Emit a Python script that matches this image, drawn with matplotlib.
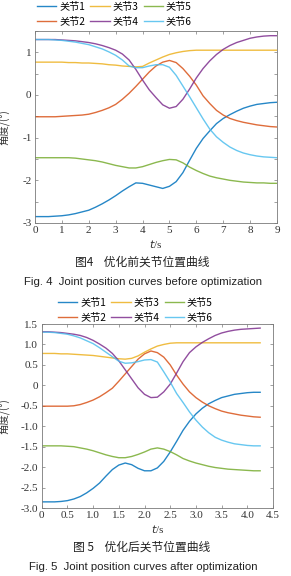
import matplotlib
matplotlib.use('Agg')
import matplotlib.pyplot as plt
import numpy as np
from matplotlib.ticker import MultipleLocator, FuncFormatter

plt.rcParams['axes.unicode_minus'] = False

# ---- data: before optimization (t = 0..9, step 0.25)
t_before = np.arange(0, 9.001, 0.25)
j1_before = [-2.85, -2.85, -2.85, -2.84, -2.83, -2.81, -2.78, -2.74, -2.70, -2.63,
             -2.55, -2.46, -2.36, -2.25, -2.15, -2.06, -2.07, -2.11, -2.15, -2.19,
             -2.14, -2.03, -1.82, -1.53, -1.25, -1.02, -0.84, -0.67, -0.55, -0.46,
             -0.38, -0.31, -0.26, -0.22, -0.20, -0.18, -0.17]
j2_before = [-0.51, -0.51, -0.51, -0.51, -0.50, -0.49, -0.48, -0.47, -0.45, -0.41,
             -0.36, -0.30, -0.22, -0.10, 0.04, 0.20, 0.37, 0.54, 0.68, 0.77,
             0.81, 0.76, 0.62, 0.44, 0.23, -0.02, -0.20, -0.36, -0.47, -0.55,
             -0.60, -0.64, -0.67, -0.70, -0.72, -0.74, -0.75]
j3_before = [0.77, 0.77, 0.77, 0.77, 0.77, 0.76, 0.76, 0.75, 0.75, 0.74,
             0.73, 0.71, 0.70, 0.68, 0.67, 0.66, 0.67, 0.75, 0.82, 0.89,
             0.95, 0.99, 1.02, 1.04, 1.05, 1.05, 1.05, 1.05, 1.05, 1.05,
             1.05, 1.05, 1.05, 1.05, 1.05, 1.05, 1.05]
j4_before = [1.30, 1.30, 1.30, 1.30, 1.29, 1.28, 1.27, 1.25, 1.23, 1.20,
             1.16, 1.11, 1.05, 0.96, 0.82, 0.60, 0.35, 0.12, -0.06, -0.23,
             -0.31, -0.27, -0.10, 0.14, 0.40, 0.62, 0.80, 0.95, 1.07, 1.16,
             1.23, 1.28, 1.33, 1.36, 1.38, 1.39, 1.39]
j5_before = [-1.47, -1.47, -1.47, -1.47, -1.47, -1.47, -1.48, -1.50, -1.52, -1.54,
             -1.57, -1.61, -1.65, -1.68, -1.71, -1.71, -1.68, -1.63, -1.58, -1.54,
             -1.51, -1.52, -1.59, -1.69, -1.77, -1.84, -1.90, -1.94, -1.97, -2.00,
             -2.02, -2.04, -2.05, -2.06, -2.06, -2.07, -2.07]
j6_before = [1.30, 1.30, 1.30, 1.29, 1.28, 1.26, 1.24, 1.21, 1.18, 1.13,
             1.08, 1.01, 0.93, 0.82, 0.68, 0.64, 0.64, 0.68, 0.71, 0.71,
             0.65, 0.46, 0.21, -0.04, -0.30, -0.56, -0.80, -0.98, -1.11, -1.22,
             -1.30, -1.36, -1.40, -1.43, -1.45, -1.46, -1.47]

# ---- data: after optimization (t = 0..4.25, step 0.125)
t_after = np.arange(0, 4.2501, 0.125)
j1_after = [-2.85, -2.85, -2.85, -2.84, -2.82, -2.78, -2.72, -2.63, -2.52, -2.39,
            -2.22, -2.06, -1.95, -1.90, -1.94, -2.03, -2.09, -2.09, -2.02, -1.86,
            -1.63, -1.37, -1.10, -0.88, -0.70, -0.56, -0.45, -0.37, -0.30, -0.26,
            -0.22, -0.20, -0.18, -0.17, -0.17]
j2_after = [-0.51, -0.51, -0.51, -0.51, -0.51, -0.50, -0.47, -0.42, -0.36, -0.28,
            -0.18, -0.07, 0.10, 0.28, 0.46, 0.64, 0.77, 0.84, 0.80, 0.69,
            0.50, 0.25, 0.03, -0.16, -0.30, -0.41, -0.50, -0.57, -0.63, -0.67,
            -0.70, -0.73, -0.75, -0.77, -0.78]
j3_after = [0.78, 0.78, 0.78, 0.77, 0.77, 0.76, 0.75, 0.74, 0.73, 0.71,
            0.69, 0.67, 0.65, 0.64, 0.66, 0.72, 0.81, 0.89, 0.96, 1.00,
            1.03, 1.04, 1.04, 1.04, 1.04, 1.04, 1.04, 1.04, 1.04, 1.04,
            1.04, 1.04, 1.04, 1.04, 1.04]
j4_after = [1.31, 1.31, 1.30, 1.29, 1.27, 1.25, 1.22, 1.17, 1.10, 1.01,
            0.91, 0.78, 0.60, 0.38, 0.16, -0.06, -0.22, -0.30, -0.29, -0.16,
            0.03, 0.30, 0.58, 0.80, 0.94, 1.05, 1.14, 1.22, 1.28, 1.32,
            1.35, 1.37, 1.38, 1.39, 1.40]
j5_after = [-1.48, -1.48, -1.48, -1.48, -1.49, -1.50, -1.53, -1.56, -1.60, -1.65,
            -1.70, -1.74, -1.77, -1.77, -1.74, -1.69, -1.63, -1.56, -1.53, -1.56,
            -1.62, -1.70, -1.79, -1.85, -1.90, -1.94, -1.98, -2.01, -2.03, -2.05,
            -2.06, -2.07, -2.08, -2.09, -2.09]
j6_after = [1.30, 1.30, 1.29, 1.27, 1.25, 1.21, 1.16, 1.09, 1.02, 0.92,
            0.81, 0.70, 0.59, 0.54, 0.55, 0.58, 0.62, 0.63, 0.57, 0.33,
            0.08, -0.20, -0.42, -0.65, -0.85, -1.02, -1.16, -1.27, -1.34, -1.39,
            -1.43, -1.45, -1.47, -1.48, -1.48]

labels = ['关节1', '关节2', '关节3', '关节4', '关节5', '关节6']
colors = ['#0072BD', '#D95319', '#EDB120', '#7E2F8E', '#77AC30', '#4DBEEE']

before = [j1_before, j2_before, j3_before, j4_before, j5_before, j6_before]
after = [j1_after, j2_after, j3_after, j4_after, j5_after, j6_after]

W, H = 291, 576
fig = plt.figure(figsize=(W / 100, H / 100), dpi=100)

serif = 'Liberation Serif'
cjk = ['Noto Sans CJK SC', 'DejaVu Sans']


def box(l, t, r, b):
    return [l / W, 1 - b / H, (r - l) / W, (b - t) / H]


def style(ax):
    for s in ax.spines.values():
        s.set_color('#7a7a7a')
        s.set_linewidth(0.6)
    ax.tick_params(which='both', direction='in', top=True, right=True,
                   length=2.5, width=0.5, color='#7a7a7a',
                   labelsize=8, pad=2.5)
    for lab in ax.get_xticklabels() + ax.get_yticklabels():
        lab.set_fontfamily(serif)
        lab.set_color('#333333')


# ---- top chart
ax1 = fig.add_axes(box(35, 31, 277, 223))
lines = []
for y, c, lab in zip(before, colors, labels):
    ln, = ax1.plot(t_before, y, color=c, lw=1.0, alpha=0.85, label=lab)
    lines.append(ln)
ax1.set_xlim(0, 9)
ax1.set_ylim(-3, 1.5)
ax1.xaxis.set_major_locator(MultipleLocator(1))
ax1.yaxis.set_major_locator(MultipleLocator(1))
ax1.yaxis.set_minor_locator(MultipleLocator(0.5))
style(ax1)
ax1.set_xlabel('$t$/s', fontfamily=serif, fontsize=8, labelpad=2, color='#333333')
ax1.set_ylabel('角度/(°)', fontfamily=cjk, fontsize=7.5, color='#333333')
ax1.yaxis.set_label_coords(-0.1, 0.5)

fig.legend(handles=lines, loc='upper left', bbox_to_anchor=(37 / W, 1 - 2 / H),
           ncol=3, frameon=False, prop={'family': cjk, 'size': 7.3},
           handlelength=1.9, handletextpad=0.3, columnspacing=0.5,
           labelspacing=0.45, borderpad=0, borderaxespad=0)

fig.text(142 / W, 1 - 262 / H, '图4    优化前关节位置曲线', ha='center', va='center',
         fontfamily=cjk, fontsize=8.5, color='#222222')
fig.text(143 / W, 1 - 282 / H, 'Fig. 4  Joint position curves before optimization',
         ha='center', va='center', fontfamily='Liberation Sans', fontsize=8.2,
         color='#222222')

# ---- bottom chart
ax2 = fig.add_axes(box(41.7, 324, 273, 508))
lines2 = []
for y, c, lab in zip(after, colors, labels):
    ln, = ax2.plot(t_after, y, color=c, lw=1.0, alpha=0.85, label=lab)
    lines2.append(ln)
ax2.set_xlim(0, 4.5)
ax2.set_ylim(-3, 1.5)
ax2.xaxis.set_major_locator(MultipleLocator(0.5))
ax2.yaxis.set_major_locator(MultipleLocator(0.5))
fmt = FuncFormatter(lambda v, p: '0' if abs(v) < 1e-9 else '%.1f' % v)
ax2.xaxis.set_major_formatter(fmt)
ax2.yaxis.set_major_formatter(fmt)
style(ax2)
ax2.set_xlabel('$t$/s', fontfamily=serif, fontsize=8, labelpad=2, color='#333333')
ax2.set_ylabel('角度/(°)', fontfamily=cjk, fontsize=7.5, color='#333333')
ax2.yaxis.set_label_coords(-0.135, 0.5)

fig.legend(handles=lines2, loc='upper left', bbox_to_anchor=(58 / W, 1 - 298 / H),
           ncol=3, frameon=False, prop={'family': cjk, 'size': 7.3},
           handlelength=1.9, handletextpad=0.3, columnspacing=0.5,
           labelspacing=0.45, borderpad=0, borderaxespad=0)

fig.text(142 / W, 1 - 547 / H, '图 5    优化后关节位置曲线', ha='center', va='center',
         fontfamily=cjk, fontsize=8.5, color='#222222')
fig.text(143 / W, 1 - 567 / H, 'Fig. 5  Joint position curves after optimization',
         ha='center', va='center', fontfamily='Liberation Sans', fontsize=8.2,
         color='#222222')

fig.savefig('out.png', dpi=100)
